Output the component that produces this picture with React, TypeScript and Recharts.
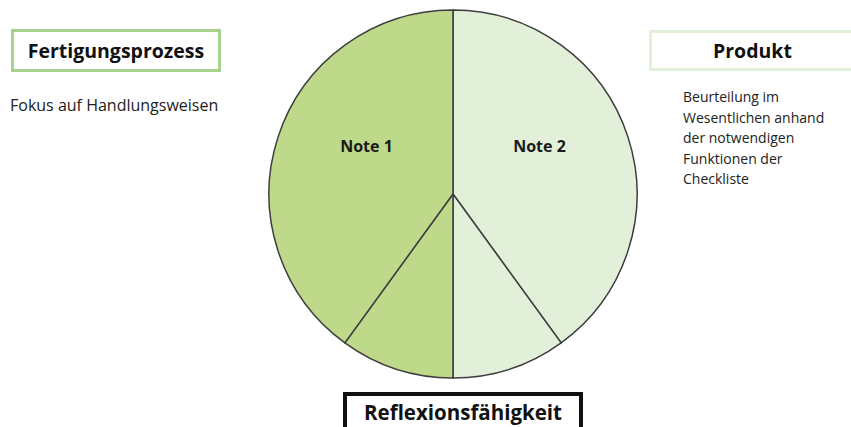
import { PieChart, Pie, Cell } from "recharts";

const segmentNames = ["Note 2", "Reflexion rechts", "Reflexion links", "Note 1"];
const segmentValues = [40, 10, 10, 40];
const segmentColors = ["#e2efd9", "#e2efd9", "#bfd98a", "#bfd98a"];
const shownLabels = ["Note 1", "Note 2"];

const produktLines = [
  "Beurteilung im",
  "Wesentlichen anhand",
  "der notwendigen",
  "Funktionen der",
  "Checkliste",
];

const data = segmentNames.map((name, i) => ({
  name,
  value: segmentValues[i],
}));

const font = "'Open Sans', Lato, sans-serif";

const renderLabel = (props: any) => {
  const { cx, cy, outerRadius, midAngle, name } = props;
  if (!shownLabels.includes(name)) return null;
  const side = Math.cos((midAngle * Math.PI) / 180) >= 0 ? 1 : -1;
  return (
    <text
      x={cx + side * outerRadius * 0.47}
      y={cy - outerRadius * 0.26}
      textAnchor="middle"
      dominantBaseline="central"
      fontFamily={font}
      fontWeight={700}
      fontSize={16}
      fill="#1a1a1a"
    >
      {name}
    </text>
  );
};

export default function App() {
  return (
    <div
      style={{
        position: "absolute",
        left: 0,
        top: 0,
        width: 851,
        height: 427,
        background: "#fff",
        overflow: "hidden",
        fontFamily: font,
        color: "#222",
      }}
    >
      <PieChart width={851} height={427} margin={{ top: 0, right: 0, bottom: 0, left: 0 }}>
        <Pie
          data={data}
          dataKey="value"
          cx={453}
          cy={194}
          outerRadius={184}
          startAngle={90}
          endAngle={-270}
          stroke="#3d3d3d"
          strokeWidth={1.5}
          label={renderLabel}
          labelLine={false}
          isAnimationActive={false}
        >
          {data.map((d, i) => (
            <Cell key={d.name} fill={segmentColors[i]} />
          ))}
        </Pie>
      </PieChart>

      <div
        style={{
          position: "absolute",
          left: 11,
          top: 29,
          width: 210,
          height: 43,
          boxSizing: "border-box",
          border: "3px solid #a9d18e",
          display: "flex",
          alignItems: "center",
          justifyContent: "center",
          fontWeight: 700,
          fontSize: 19.5,
          color: "#111",
        }}
      >
        Fertigungsprozess
      </div>
      <div style={{ position: "absolute", left: 10, top: 94, fontSize: 16 }}>
        Fokus auf Handlungsweisen
      </div>

      <div
        style={{
          position: "absolute",
          left: 649,
          top: 30,
          width: 220,
          height: 41,
          boxSizing: "border-box",
          border: "3px solid #e2efd9",
          display: "flex",
          alignItems: "center",
          paddingLeft: 61,
          fontWeight: 700,
          fontSize: 19.5,
          color: "#111",
        }}
      >
        Produkt
      </div>
      <div
        style={{
          position: "absolute",
          left: 683,
          top: 87,
          fontSize: 14,
          lineHeight: "20.5px",
        }}
      >
        {produktLines.map((l) => (
          <div key={l}>{l}</div>
        ))}
      </div>

      <div
        style={{
          position: "absolute",
          left: 343,
          top: 392,
          width: 240,
          height: 46,
          border: "4px solid #111",
          display: "flex",
          justifyContent: "center",
          paddingTop: 2,
          boxSizing: "border-box",
          fontWeight: 700,
          fontSize: 20.5,
          color: "#111",
        }}
      >
        Reflexionsfähigkeit
      </div>
    </div>
  );
}
